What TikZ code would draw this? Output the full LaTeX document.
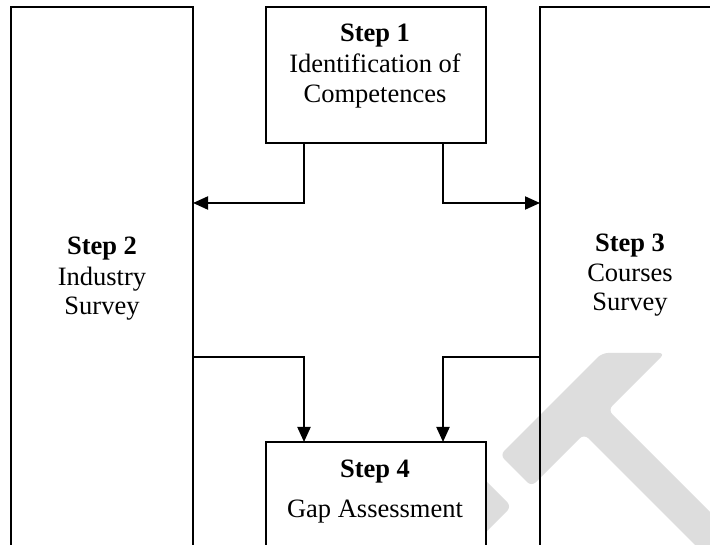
\documentclass[tikz,border=0pt]{standalone}
\usepackage{fontspec}
\setmainfont{Liberation Serif}
\usetikzlibrary{arrows.meta}
\definecolor{wm}{RGB}{221,221,221}
\begin{document}
\begin{tikzpicture}[x=1pt,y=-1pt,
  box/.style={draw=black, line width=2.2pt, rectangle, inner sep=0pt, outer sep=0pt},
  conn/.style={draw=black, line width=2pt, -{Triangle[length=15pt,width=13pt]}},
  txt/.style={anchor=base, inner sep=0pt, font=\fontsize{26.5}{31}\selectfont},
  bold/.style={txt, font=\fontsize{26.5}{31}\selectfont\bfseries}]
\useasboundingbox (0,0) rectangle (710,545);
\clip (0,0) rectangle (710,545);
\fill[white] (0,0) rectangle (710,545);
% watermark
\fill[wm, rounded corners=6pt] (602,353) -- (665,353) -- (608,410) -- (774,576) -- (750,600) -- (584,434) -- (531.5,486.5) -- (500,455) -- cycle;
\fill[wm, rounded corners=6pt] (480,475) -- (511.5,506.5) -- (451.5,566.5) -- (420,535) -- cycle;
% boxes
\node[box, minimum width=220pt, minimum height=136pt] (top) at (376,75) {};
\node[box, minimum width=182pt, minimum height=553pt] (left) at (102,283.5) {};
\node[box, minimum width=180pt, minimum height=553pt] (right) at (630,283.5) {};
\node[box, fill=white, minimum width=220pt, minimum height=158pt] (bottom) at (376,521) {};
% level coordinates
\coordinate (upper) at (0,203);
\coordinate (lower) at (0,357);
% connectors
\draw[conn] ([xshift=-72pt]top.south) |- (left.east |- upper);
\draw[conn] ([xshift=67pt]top.south) |- (right.west |- upper);
\draw[conn] (left.east |- lower) -| ([xshift=-72pt]bottom.north);
\draw[conn] (right.west |- lower) -| ([xshift=67pt]bottom.north);
% texts
\node[bold] (t1a) at (375,42) {Step 1};
\node[txt] (t1b) at (375,73) {Identification of};
\node[txt] (t1c) at (375,103) {Competences};
\node[bold] (t2a) at (102,255) {Step 2};
\node[txt] (t2b) at (102,286) {Industry};
\node[txt] (t2c) at (102,315) {Survey};
\node[bold] (t3a) at (630,252) {Step 3};
\node[txt] (t3b) at (630,282) {Courses};
\node[txt] (t3c) at (630,311) {Survey};
\node[bold] (t4a) at (375,477) {Step 4};
\node[txt] (t4b) at (375,517) {Gap Assessment};
\end{tikzpicture}
\end{document}
